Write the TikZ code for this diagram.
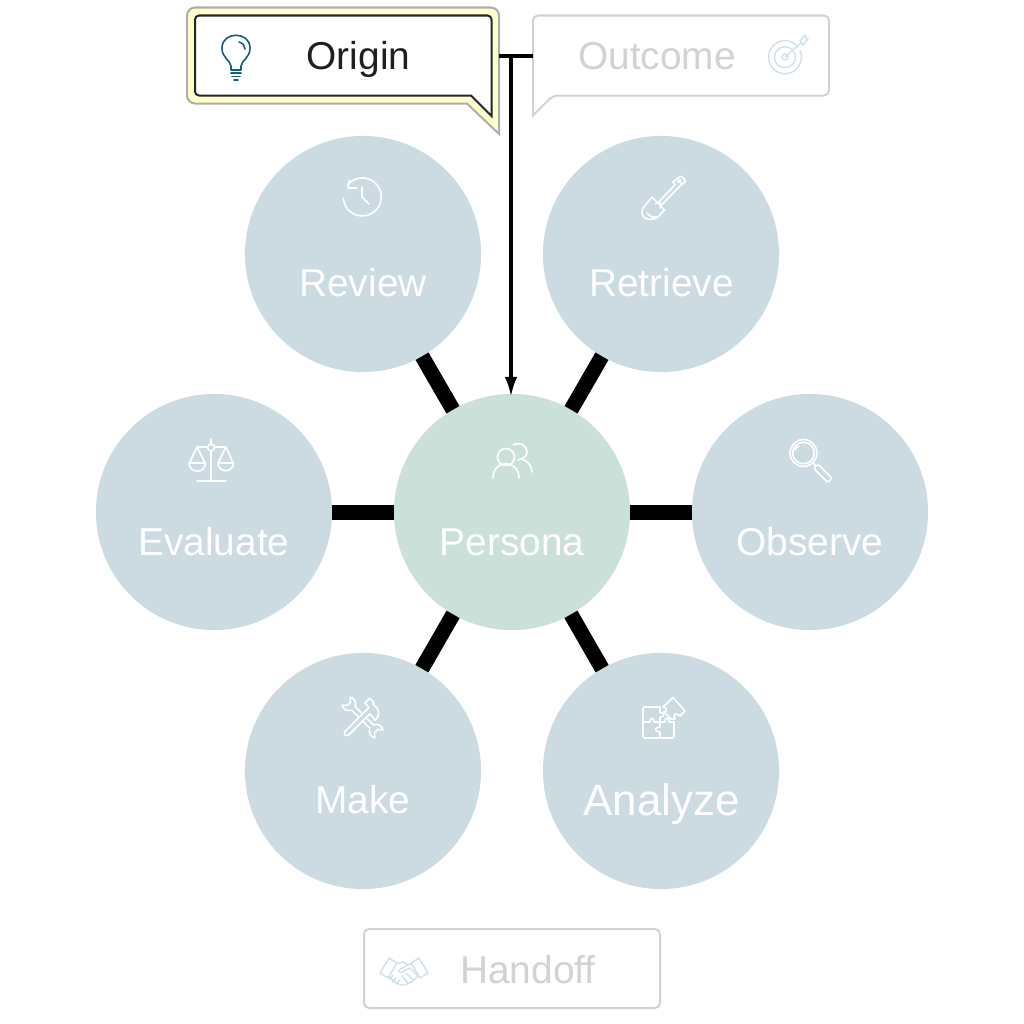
\documentclass[tikz,border=0pt]{standalone}
\usepackage{fontspec}
\setmainfont{Liberation Sans}
\usetikzlibrary{arrows.meta}

\definecolor{stepblue}{HTML}{CCDAE1}
\definecolor{stepgreen}{HTML}{CCE0DA}
\definecolor{fadegray}{HTML}{D2D2D2}
\definecolor{fadeicon}{HTML}{CFE0E9}
\definecolor{tealicon}{HTML}{14607F}
\definecolor{glow}{HTML}{FFFFCC}

\tikzset{
  stepnode/.style={circle,fill=stepblue,minimum size=2.36cm,inner sep=0pt,outer sep=0pt},
  steptext/.style={text=white,font=\fontsize{11.05pt}{12pt}\selectfont,inner sep=0pt,anchor=base},
  spoke/.style={line width=.15cm},
  boxnode/.style={minimum width=2.96cm,minimum height=.8cm,inner sep=0pt,outer sep=0pt},
  icon/.style={draw=white,line width=.016cm,line cap=round,line join=round},
  fadebox/.style={draw=fadegray,line width=.02cm,rounded corners=.05cm},
  fadetext/.style={text=fadegray,font=\fontsize{11.05pt}{12pt}\selectfont,inner sep=0pt,anchor=base},
  link/.style={draw=black,line width=.03cm}
}

\begin{document}
\begin{tikzpicture}[x=.01cm,y=-.01cm]
    \useasboundingbox (0,0) rectangle (1024,1024);

    % the six steps round the persona
    \node[stepnode,fill=stepgreen] (persona) at (512,512) {};
    \node[stepnode] (review) at (363,254) {};
    \node[stepnode] (retrieve) at (661,254) {};
    \node[stepnode] (observe) at (810,512) {};
    \node[stepnode] (analyze) at (661,771) {};
    \node[stepnode] (make) at (363,771) {};
    \node[stepnode] (evaluate) at (214,512) {};

    \foreach \name in {review,retrieve,observe,analyze,make,evaluate}
      \draw[spoke] (persona) -- (\name);

    \node[steptext] (personatext) at (512,555) {Persona};
    \node[steptext] (reviewtext) at (363,296.5) {Review};
    \node[steptext] (retrievetext) at (661.5,296.5) {Retrieve};
    \node[steptext] (observetext) at (810,555) {Observe};
    \node[steptext,font=\fontsize{12.5pt}{14pt}\selectfont] (analyzetext) at (661.5,815) {Analyze};
    \node[steptext] (maketext) at (363,813.5) {Make};
    \node[steptext] (evaluatetext) at (214,555) {Evaluate};

    % callouts
    \draw[draw=black!32,fill=glow,line width=.02cm,rounded corners=.08cm]
      (187,7.5) -- (499,7.5) -- (499,134) [sharp corners] -- (499,134) -- (467,103.5) [rounded corners=.08cm] -- (187,103.5) -- cycle;
    \draw[draw=black!85,fill=white,line width=.02cm,rounded corners=.04cm]
      (195,15.5) -- (491.5,15.5) -- (491.5,116) [sharp corners] -- (491.5,116) -- (471,95.5) [rounded corners=.04cm] -- (195,95.5) -- cycle;
    \draw[fadebox] (533,15.5) -- (829,15.5) -- (829,95.5) -- (553,95.5) [sharp corners] -- (533,115.5) [rounded corners=.05cm] -- cycle;
    \draw[fadebox] (364,929) rectangle (660,1008);

    \node[boxnode,minimum width=3.12cm,minimum height=.96cm] (origin) at (343,56) {};
    \node[boxnode] (outcome) at (681,56) {};
    \node[boxnode] (handoff) at (512,968.5) {};

    \node[inner sep=0pt,anchor=base,text=black!88,font=\fontsize{11.05pt}{12pt}\selectfont] (origintext) at (358.5,70) {Origin};
    \node[fadetext] (outcometext) at (657,70) {Outcome};
    \node[fadetext] (handofftext) at (528,983) {Handoff};

    \coordinate (branch) at (511,56);
    \draw[link] (origin.east) -- (outcome.west);
    \draw[link,line width=.035cm,shorten >=-.03cm,-{Latex[length=.2cm,width=.125cm]}] (branch) -- (persona.north -| branch);

    % bulb
    \draw[icon,draw=tealicon] (231,70) -- (231,66) .. controls (230,60) and (222,58) .. (222,48)
      .. controls (222,31) and (250,31) .. (250,48) .. controls (250,58) and (242,60) .. (241,66) -- (241,70) -- cycle;
    \draw[icon,draw=tealicon] (239,42) .. controls (243,43) and (245,46) .. (245,49);
    \draw[icon,draw=tealicon] (231,73) -- (241,73) (232,76.5) -- (240,76.5) (234,80) -- (238,80);

    % target
    \begin{scope}[icon/.append style={draw=fadeicon,line width=.014cm}]
      \draw[icon] (798,47) arc[start angle=-38,end angle=-385,radius=16.5];
      \draw[icon] (793,50.5) arc[start angle=-40,end angle=-390,radius=10.5];
      \draw[icon] (785,57) circle (3);
      \draw[icon] (785,57) -- (802,42);
      \draw[icon] (800,41) -- (805,35) -- (806,38) -- (808,39) -- (803,45) (800,41) -- (803,45);
    \end{scope}

    % clock
    \draw[icon] (347.5,185) arc[start angle=-141,end angle=176,radius=19];
    \draw[icon] (349.5,180) -- (348,188) -- (356.5,188);
    \draw[icon] (362,187) -- (362,197) -- (369,204);

    % shovel
    \draw[icon] (662,204.5) -- (678,188) (659,201.5) -- (675,185);
    \draw[icon] (675,185) -- (673,182) -- (680,176.5) .. controls (682,175.5) and (686,180) .. (685,182) -- (681,185) -- (678,188);
    \draw[icon] (677.5,181.5) -- (680.5,179.5) -- (681,183) -- cycle;
    \draw[icon] (655.5,204) -- (659,201.5) -- (662,204.5) -- (660,208);
    \draw[icon] (652,197) -- (664.5,210) -- (658,217) .. controls (654,220) and (647,220) .. (645,218)
      .. controls (642,216) and (641,212) .. (643,208) -- cycle;
    \draw[icon] (647,213) .. controls (650,217) and (654,218) .. (657,217);

    % scales
    \draw[icon] (211,439) -- (211,443.5) (211,451) -- (211,481) (197,481) -- (226,481);
    \draw[icon] (211,447.5) circle (3.5);
    \draw[icon] (197,447) -- (207.5,447) (214.5,447) -- (226,447);
    \draw[icon] (189.5,463) -- (197,447) -- (205,463) (218,463) -- (226,447) -- (233,463);
    \draw[icon] (189,463) -- (205.5,463) arc[start angle=0,end angle=180,radius=8.25] -- cycle;
    \draw[icon] (218,463) -- (233.5,463) arc[start angle=0,end angle=180,radius=7.75] -- cycle;

    % people
    \draw[icon] (506,457) circle (8.5);
    \draw[icon] (493,478) .. controls (493,459) and (519,459) .. (519,478);
    \draw[icon] (513,445) .. controls (520,441) and (527,446) .. (527,452) .. controls (527,456) and (523,459) .. (518,460);
    \draw[icon] (522,459) .. controls (527,461) and (532,465) .. (532,472);

    % magnifier
    \draw[icon] (803.5,453) circle (13.5);
    \draw[icon] (803.5,453) circle (10.8);
    \draw[icon] (813,463) -- (816,466);
    \draw[icon,rounded corners=.02cm,rotate around={-45:(822.5,473)}] (813,470) rectangle (833,476);
    \draw[icon] (795,450) .. controls (796,448) and (797,447) .. (799,446);

    % tools
    \begin{scope}[shift={(362.5,717.5)},rotate=-45,scale=.8]
      \draw[icon] (-16,3) -- (16,3) .. controls (19,9) and (25,10) .. (29,7) -- (24,3) -- (24,-3) -- (29,-7)
        .. controls (25,-10) and (19,-9) .. (16,-3) -- (-16,-3) .. controls (-19,-9) and (-25,-10) .. (-29,-7)
        -- (-24,-3) -- (-24,3) -- (-29,7) .. controls (-25,10) and (-19,9) .. (-16,3);
    \end{scope}
    \begin{scope}[shift={(362.5,717.5)},rotate=45,scale=.85]
      \draw[icon,fill=stepblue] (-26,3) -- (9,3) -- (9,7) -- (8,13) .. controls (14,13) and (19,10) .. (20,4) -- (20,-3)
        -- (22,-3) -- (22,-10) -- (14,-10) -- (14,-3) -- (9,-3) -- (-26,-3) .. controls (-30,-3) and (-30,3) .. (-26,3);
    \end{scope}

    % puzzle
    \draw[icon,rounded corners=.02cm] (660,707) -- (643,707) -- (643,738) -- (674,738) -- (674,722);
    \draw[icon] (660,707) -- (660,713) .. controls (665,711) and (665,718) .. (660,717) -- (660,722) -- (654,722)
      .. controls (654,717) and (650,717) .. (650,722) -- (643,722);
    \draw[icon] (660,722) -- (665,722) .. controls (664,717) and (670,717) .. (669,722) -- (674,722);
    \draw[icon] (660,722) -- (660,727) .. controls (654,727) and (654,732) .. (660,732) -- (660,738);
    \draw[icon] (663,707) -- (673,697.5) -- (685,711) -- (680,716) .. controls (676,712) and (672,714) .. (675,719)
      -- (671,719) -- (664,712) .. controls (668,711) and (667,707) .. (663,707);

    % handshake
    \begin{scope}[icon/.append style={draw=fadeicon,line width=.014cm}]
      \draw[icon] (380,973) -- (389,958) -- (397,963) -- (388,978) -- cycle;
      \draw[icon] (428,973) -- (419,958) -- (411,963) -- (420,978) -- cycle;
      \draw[icon] (396,964) -- (403,962) -- (408,965) -- (412,963);
      \draw[icon] (408,965) -- (399,970) .. controls (398,973) and (402,973) .. (404,971) -- (410,968) -- (418,976);
      \draw[icon] (389,977) -- (396,983) -- (401,985) -- (405,985) -- (413,981) -- (418,976);
      \draw[icon] (393,975) -- (389,979) (396,978) -- (392,982) (400,980) -- (396,984);
      \draw[icon] (406,973) -- (413,980) (402,976) -- (408,983);
    \end{scope}
  \end{tikzpicture}
\end{document}
